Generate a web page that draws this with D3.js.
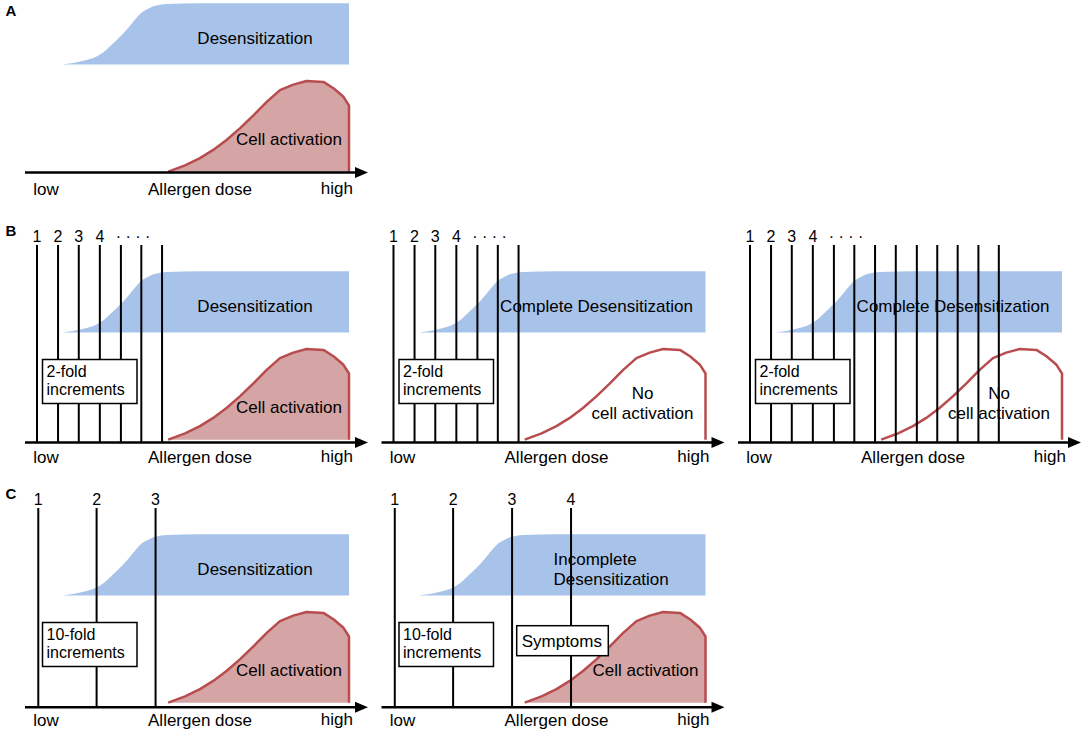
<!DOCTYPE html>
<html>
<head>
<meta charset="utf-8">
<script src="https://cdn.jsdelivr.net/npm/d3@7"></script>
<style>
  body { margin: 0; background: #fff; }
  svg text { font-family: "Liberation Sans", Arial, sans-serif; fill: #000; }
</style>
</head>
<body>
<script>
// desensitization curve (dose 0-100, level 0-100)
var desensDose  = [11.6, 18.0, 22.1, 24.2, 27.3, 30.4, 33.4, 36.0, 37.6, 39.6, 43.7, 54.0, 100];
var desensLevel = [0, 6, 13, 20, 35, 51, 70, 85, 90, 95, 99, 100, 100];

// cell activation curve
var activDose  = [44.2, 49.4, 54.0, 58.1, 62.2, 66.4, 70.5, 74.6, 78.7, 82.8, 86.9, 92.1, 95.2, 98.2, 100];
var activLevel = [0, 7, 15, 24, 35, 48, 62, 77, 90, 96, 100, 99, 92, 83, 73];

// dosing steps
var twoFoldSteps = [3.7, 10.2, 16.6, 23.1, 29.6, 35.9, 42.3, 48.7, 55.2, 61.5, 67.8, 74.2, 80.5];
var tenFoldSteps = [4.1, 22.1, 40.3, 58.5];
var stepLabels = ["1", "2", "3", "4"];

var axisLabels = ["low", "Allergen dose", "high"];

// one entry per small chart
var panels = [
  {letter: "A", col: 0, row: 0, steps: [], desens: ["Desensitization"], activ: ["Cell activation"], filled: true},
  {letter: "B", col: 0, row: 1, steps: twoFoldSteps.slice(0, 7), dots: true, box: ["2-fold", "increments"],
     desens: ["Desensitization"], activ: ["Cell activation"], filled: true},
  {letter: "",  col: 1, row: 1, steps: twoFoldSteps.slice(0, 7), dots: true, box: ["2-fold", "increments"],
     desens: ["Complete Desensitization"], activ: ["No", "cell activation"], filled: false},
  {letter: "",  col: 2, row: 1, steps: twoFoldSteps, dots: true, box: ["2-fold", "increments"],
     desens: ["Complete Desensitization"], activ: ["No", "cell activation"], filled: false},
  {letter: "C", col: 0, row: 2, steps: tenFoldSteps.slice(0, 3), box: ["10-fold", "increments"],
     desens: ["Desensitization"], activ: ["Cell activation"], filled: true},
  {letter: "",  col: 1, row: 2, steps: tenFoldSteps, box: ["10-fold", "increments"], symptoms: "Symptoms",
     desens: ["Incomplete", "Desensitization"], activ: ["Cell activation"], filled: true}
];

var colX = [0, 356.5, 713],
    rowY = [0, 268, 531],
    rowAxis = [172.5, 174.5, 176.3];

var blue = "#a8c3e9", redFill = "#d4a5a4", redLine = "#b84c4e";

var svg = d3.select("body").append("svg")
    .attr("width", 1084)
    .attr("height", 735);

panels.forEach(drawPanel);

function drawPanel(p){
    var ox = colX[p.col], oy = rowY[p.row];
    var g = svg.append("g").attr("transform", "translate(" + ox + "," + oy + ")");
    var axisY = rowAxis[p.row];

    var x = d3.scaleLinear().domain([0, 100]).range([25, 349]);
    var yDes = d3.scaleLinear().domain([0, 100]).range([64.5, 3.3]);
    var yAct = d3.scaleLinear().domain([0, 100]).range([171.7, 81]);

    var desPts = desensDose.map(function(d, i){ return [d, desensLevel[i]]; });
    var actPts = activDose.map(function(d, i){ return [d, activLevel[i]]; });

    // blue area
    g.append("path")
        .datum(desPts)
        .attr("fill", blue)
        .attr("d", d3.area()
            .x(function(d){ return x(d[0]); })
            .y0(yDes(0))
            .y1(function(d){ return yDes(d[1]); })
            .curve(d3.curveMonotoneX));

    // red area
    if (p.filled){
        g.append("path")
            .datum(actPts)
            .attr("fill", redFill)
            .attr("d", d3.area()
                .x(function(d){ return x(d[0]); })
                .y0(yAct(0))
                .y1(function(d){ return yAct(d[1]); }));
    }
    var actLine = actPts.concat([[100, 0]]);
    g.append("path")
        .datum(actLine)
        .attr("fill", "none")
        .attr("stroke", redLine)
        .attr("stroke-width", 2.5)
        .attr("stroke-linejoin", "round")
        .attr("d", d3.line()
            .x(function(d){ return x(d[0]); })
            .y(function(d){ return yAct(d[1]); }));

    // curve labels
    if (p.desens.length == 1){
        g.append("text")
            .attr("x", p.desens[0] == "Desensitization" ? 255 : 240)
            .attr("y", 44)
            .attr("text-anchor", "middle")
            .attr("font-size", 17)
            .text(p.desens[0]);
    } else {
        g.selectAll(".desl")
            .data(p.desens)
            .enter()
            .append("text")
            .attr("x", 197)
            .attr("y", function(d, i){ return 34 + i * 19.5; })
            .attr("font-size", 17)
            .text(function(d){ return d; });
    }
    g.selectAll(".actl")
        .data(p.activ)
        .enter()
        .append("text")
        .attr("x", p.activ.length == 1 ? 289 : 286)
        .attr("y", function(d, i){ return p.activ.length == 1 ? 144.5 : 130.5 + i * 20; })
        .attr("text-anchor", "middle")
        .attr("font-size", 17)
        .text(function(d){ return d; });

    // dose steps
    g.selectAll(".step")
        .data(p.steps)
        .enter()
        .append("line")
        .attr("x1", function(d){ return x(d); })
        .attr("x2", function(d){ return x(d); })
        .attr("y1", -23)
        .attr("y2", axisY)
        .attr("stroke", "#000")
        .attr("stroke-width", 2);

    g.selectAll(".stepLabel")
        .data(p.steps.slice(0, stepLabels.length))
        .enter()
        .append("text")
        .attr("x", function(d){ return x(d); })
        .attr("y", -26)
        .attr("text-anchor", "middle")
        .attr("font-size", 16)
        .text(function(d, i){ return stepLabels[i]; });

    if (p.dots){
        g.append("text")
            .attr("x", 133)
            .attr("y", -26)
            .attr("text-anchor", "middle")
            .attr("font-size", 16)
            .text("· · · ·");
    }

    // boxes
    if (p.box){
        g.append("rect")
            .attr("x", 42.5).attr("y", 91.5)
            .attr("width", 94.5).attr("height", 44)
            .attr("fill", "#fff")
            .attr("stroke", "#000")
            .attr("stroke-width", 1.5);
        g.selectAll(".boxl")
            .data(p.box)
            .enter()
            .append("text")
            .attr("x", 46.5)
            .attr("y", function(d, i){ return 109 + i * 18; })
            .attr("font-size", 16)
            .text(function(d){ return d; });
    }
    if (p.symptoms){
        g.append("rect")
            .attr("x", 160.2).attr("y", 94.7)
            .attr("width", 91.6).attr("height", 30)
            .attr("fill", "#fff")
            .attr("stroke", "#000")
            .attr("stroke-width", 1.5);
        g.append("text")
            .attr("x", 165.2)
            .attr("y", 115.7)
            .attr("font-size", 17)
            .text(p.symptoms);
    }

    // dose axis with arrow
    g.append("line")
        .attr("x1", 25).attr("x2", 358)
        .attr("y1", axisY).attr("y2", axisY)
        .attr("stroke", "#000")
        .attr("stroke-width", 2.5);
    g.append("path")
        .attr("d", d3.line()([[355, axisY - 5.5], [368, axisY], [355, axisY + 5.5]]) + "Z")
        .attr("fill", "#000");

    g.append("text").attr("x", 33.3).attr("y", 194.5).attr("font-size", 17).text(axisLabels[0]);
    g.append("text").attr("x", 200).attr("y", 194.5).attr("text-anchor", "middle").attr("font-size", 17).text(axisLabels[1]);
    g.append("text").attr("x", 353).attr("y", 193.5).attr("text-anchor", "end").attr("font-size", 17).text(axisLabels[2]);

    if (p.letter){
        g.append("text")
            .attr("x", 5.5)
            .attr("y", p.row == 0 ? 15.5 : -32)
            .attr("font-size", 15)
            .attr("font-weight", "bold")
            .text(p.letter);
    }
}
</script>
</body>
</html>
